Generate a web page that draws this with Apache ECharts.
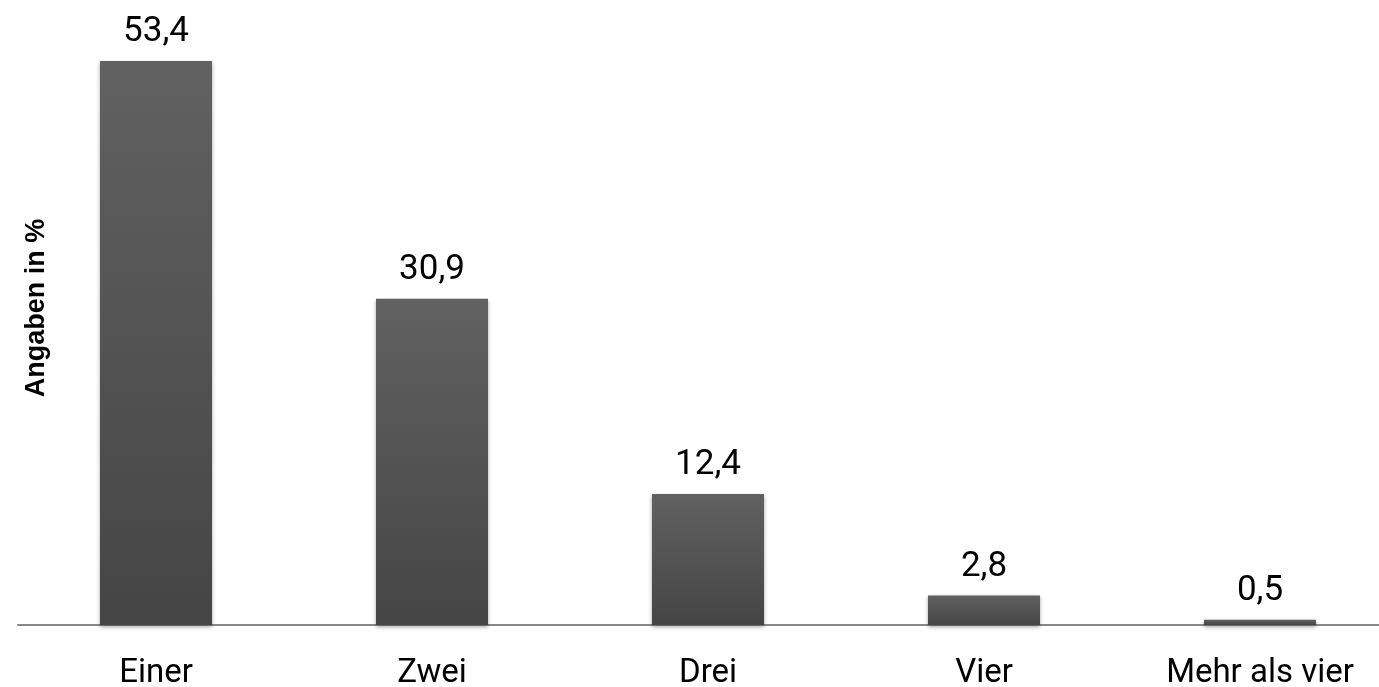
<!DOCTYPE html>
<html><head><meta charset="utf-8">
<script src="https://cdn.jsdelivr.net/npm/echarts@6/dist/echarts.min.js"></script>
<style>html,body{margin:0;padding:0;background:#fff}#c{width:1379px;height:687px}</style>
</head><body><div id="c"></div>
<script>
const categories = ['Einer', 'Zwei', 'Drei', 'Vier', 'Mehr als vier'];
const values = [53.4, 30.9, 12.4, 2.8, 0.5];
const yTitle = 'Angaben in %';

const chart = echarts.init(document.getElementById('c'));
chart.setOption({
  animation: false,
  grid: { left: 18, width: 1380, top: 61, bottom: 62, outerBoundsMode: 'none', containLabel: false },
  xAxis: {
    type: 'category', data: categories,
    axisLine: { lineStyle: { color: '#8a8a8a', width: 2 } },
    axisTick: { show: false },
    axisLabel: { color: '#000', fontSize: 33, fontFamily: 'Roboto, sans-serif', margin: 32 }
  },
  yAxis: {
    type: 'value', min: 0, max: 53.4,
    show: true,
    axisLine: { show: false }, axisTick: { show: false }, axisLabel: { show: false },
    splitLine: { show: false },
    name: yTitle, nameLocation: 'middle', nameGap: -32,
    nameTextStyle: { color: '#000', fontSize: 27, fontWeight: 'bold', fontFamily: 'Liberation Sans, Arial, sans-serif', padding: [0, 0, 0, 70] }
  },
  series: [{
    type: 'bar', data: values, barWidth: 112,
    itemStyle: {
      color: new echarts.graphic.LinearGradient(0, 0, 0, 1, [
        { offset: 0, color: '#616161' }, { offset: 1, color: '#454545' }
      ]),
      shadowColor: 'rgba(0,0,0,0.35)', shadowBlur: 4, shadowOffsetY: 2
    },
    label: {
      show: true, position: 'top', distance: 11, color: '#000',
      fontSize: 35, fontFamily: 'Roboto, sans-serif',
      formatter: p => String(p.value).replace('.', ',')
    }
  }]
});
</script></body></html>
